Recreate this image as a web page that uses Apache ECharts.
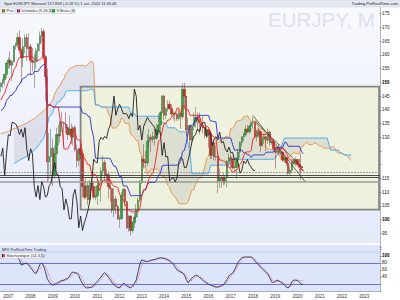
<!DOCTYPE html>
<html><head><meta charset="utf-8">
<script src="https://cdn.jsdelivr.net/npm/echarts/dist/echarts.min.js"></script>
<style>html,body{margin:0;padding:0;background:#fff}#c{width:400px;height:300px}</style>
</head><body><div id="c"></div><script>
const months = [
'2006-09','2006-10','2006-11','2006-12',
'2007-01','2007-02','2007-03','2007-04','2007-05','2007-06','2007-07','2007-08','2007-09','2007-10','2007-11','2007-12',
'2008-01','2008-02','2008-03','2008-04','2008-05','2008-06','2008-07','2008-08','2008-09','2008-10','2008-11','2008-12',
'2009-01','2009-02','2009-03','2009-04','2009-05','2009-06','2009-07','2009-08','2009-09','2009-10','2009-11','2009-12',
'2010-01','2010-02','2010-03','2010-04','2010-05','2010-06','2010-07','2010-08','2010-09','2010-10','2010-11','2010-12',
'2011-01','2011-02','2011-03','2011-04','2011-05','2011-06','2011-07','2011-08','2011-09','2011-10','2011-11','2011-12',
'2012-01','2012-02','2012-03','2012-04','2012-05','2012-06','2012-07','2012-08','2012-09','2012-10','2012-11','2012-12',
'2013-01','2013-02','2013-03','2013-04','2013-05','2013-06','2013-07','2013-08','2013-09','2013-10','2013-11','2013-12',
'2014-01','2014-02','2014-03','2014-04','2014-05','2014-06','2014-07','2014-08','2014-09','2014-10','2014-11','2014-12',
'2015-01','2015-02','2015-03','2015-04','2015-05','2015-06','2015-07','2015-08','2015-09','2015-10','2015-11','2015-12',
'2016-01','2016-02','2016-03','2016-04','2016-05','2016-06','2016-07','2016-08','2016-09','2016-10','2016-11','2016-12',
'2017-01','2017-02','2017-03','2017-04','2017-05','2017-06','2017-07','2017-08','2017-09','2017-10','2017-11','2017-12',
'2018-01','2018-02','2018-03','2018-04','2018-05','2018-06','2018-07','2018-08','2018-09','2018-10','2018-11','2018-12',
'2019-01','2019-02','2019-03','2019-04','2019-05','2019-06','2019-07','2019-08','2019-09','2019-10','2019-11','2019-12',
'2020-01','2020-02','2020-03','2020-04','2020-05','2020-06','2020-07','2020-08','2020-09','2020-10','2020-11','2020-12',
'2021-01','2021-02','2021-03','2021-04','2021-05','2021-06','2021-07','2021-08','2021-09','2021-10','2021-11','2021-12',
'2022-01','2022-02','2022-03','2022-04','2022-05','2022-06','2022-07','2022-08','2022-09','2022-10','2022-11','2022-12',
'2023-01','2023-02','2023-03','2023-04','2023-05','2023-06','2023-07','2023-08','2023-09'];

const openV = [148.5,149.7,151.0,152.9,157.0,158.1,156.2,157.6,163.2,164.0,166.3,161.7,158.9,163.0,166.3,162.3,
163.0,158.0,157.3,157.5,161.5,164.0,167.0,168.5,159.3,152.0,121.0,123.0,
126.0,116.0,124.0,131.0,130.5,135.4,135.2,134.8,133.5,131.0,133.0,130.0,
133.5,125.5,121.5,125.8,124.0,112.0,108.2,112.4,107.3,113.8,112.0,108.2,
108.7,112.3,113.2,117.7,120.8,116.5,116.3,112.0,111.2,103.5,107.5,104.7,
100.2,100.3,108.9,111.0,106.5,97.0,101.3,96.0,98.8,100.9,103.5,107.0,
113.5,122.0,121.0,120.7,128.5,130.0,129.2,130.3,129.6,132.8,134.5,139.0,
145.0,138.0,140.4,142.0,140.5,138.5,138.7,138.4,136.8,138.7,137.5,147.5,
144.9,132.6,134.3,129.0,134.0,135.5,137.2,136.2,135.2,134.4,133.4,130.7,
132.7,131.5,123.4,128.0,122.8,123.0,114.1,114.9,115.3,113.7,115.3,121.2,
122.6,122.1,118.9,119.0,121.6,124.6,128.1,130.2,131.0,133.0,132.0,134.1,
135.3,135.4,130.2,130.8,132.0,127.0,129.3,130.2,128.9,131.9,128.0,128.4,
125.8,124.6,126.4,124.3,124.5,121.7,122.5,120.6,116.9,118.0,121.3,120.4,
121.9,120.0,119.1,118.0];
const highV = [150.0,151.3,153.0,157.5,159.1,161.2,158.0,163.5,164.5,168.0,168.9,162.5,166.0,167.5,167.7,168.0,
164.0,162.5,160.5,162.5,164.3,168.5,169.9,169.5,160.0,155.0,131.5,133.0,
129.5,127.0,133.5,134.5,136.0,139.3,135.8,139.0,134.5,138.0,135.0,134.0,
134.4,127.3,126.0,127.5,125.5,114.0,115.5,113.5,114.5,115.5,114.0,112.2,
114.8,114.3,119.0,123.3,121.8,118.5,117.0,114.2,111.5,111.5,108.5,105.5,
101.5,110.0,111.5,111.4,106.8,101.5,101.5,99.5,102.5,105.5,108.0,114.5,
123.0,127.5,125.0,131.0,133.0,131.0,132.0,133.0,134.8,138.5,139.5,145.3,
145.5,141.0,143.5,143.5,142.0,139.5,139.0,139.0,140.0,139.0,149.7,149.8,
145.0,137.0,134.5,134.3,139.0,141.0,139.0,139.0,137.0,137.5,133.7,133.7,
133.0,132.5,128.3,128.8,127.0,124.4,118.5,116.0,116.8,116.0,121.7,124.1,
123.8,122.6,122.0,121.7,125.8,128.6,130.4,131.7,134.3,134.5,134.5,135.6,
137.5,135.6,132.5,133.5,132.5,130.4,131.0,130.4,133.1,132.5,129.3,129.5,
126.0,126.5,127.5,126.0,125.0,123.2,122.7,121.0,119.5,121.5,122.0,122.6,
122.0,122.0,124.0,118.5];
const lowV = [146.5,147.8,149.0,151.5,154.9,155.0,150.5,157.1,162.0,162.5,160.5,149.8,155.6,160.5,158.0,159.5,
152.5,154.0,148.0,155.0,157.5,161.3,164.5,159.0,143.3,113.6,114.5,116.0,
112.1,114.8,118.5,127.0,128.0,132.0,127.0,131.5,129.0,130.5,127.5,127.0,
124.7,119.0,119.5,122.0,108.0,107.3,107.5,105.4,106.0,110.5,107.5,107.0,
105.4,111.0,106.5,116.0,113.8,113.0,107.7,106.4,102.3,100.8,102.0,100.0,
97.0,100.0,107.0,104.8,96.5,95.6,94.1,95.0,97.0,100.0,100.6,106.5,
113.0,118.6,119.0,119.5,126.5,124.5,128.0,127.0,129.0,131.0,131.5,138.5,
136.2,136.5,139.3,140.0,137.5,136.5,135.7,136.0,136.0,133.1,136.5,140.2,
130.2,130.8,126.1,127.0,132.5,133.5,132.5,131.0,132.2,131.5,129.5,129.8,
126.2,122.1,122.0,121.5,121.5,109.6,111.5,111.6,112.6,112.8,111.6,120.0,
118.7,118.2,117.0,114.8,121.5,122.4,126.7,128.6,130.3,131.5,131.2,132.0,
133.1,129.5,128.5,130.0,124.6,126.6,127.5,124.9,127.5,126.6,127.2,125.4,
118.6,124.3,123.6,123.5,121.0,120.8,119.5,115.9,115.9,117.0,120.0,119.5,
119.3,117.1,114.4,117.5];
const closeV = [149.7,151.0,152.9,157.0,158.1,156.2,157.6,163.2,164.0,166.3,161.7,158.9,163.0,166.3,162.3,163.0,
158.0,157.3,157.5,161.5,164.0,167.0,168.5,159.3,152.0,121.0,123.0,126.0,
116.0,124.0,131.0,130.5,135.4,135.2,134.8,133.5,131.0,133.0,130.0,133.5,
125.5,121.5,125.8,124.0,112.0,108.2,112.4,107.3,113.8,112.0,108.2,108.7,
112.3,113.2,117.7,120.8,116.5,116.3,112.0,111.2,103.5,107.5,104.7,100.2,
100.3,108.9,111.0,106.5,97.0,101.3,96.0,98.8,100.9,103.5,107.0,113.5,
122.0,121.0,120.7,128.5,130.0,129.2,130.3,129.6,132.8,134.5,139.0,145.0,
138.0,140.4,142.0,140.5,138.5,138.7,138.4,136.8,138.7,137.5,147.5,144.9,
132.6,134.3,129.0,134.0,135.5,137.2,136.2,135.2,134.4,133.4,130.7,132.7,
131.5,123.4,128.0,122.8,123.0,114.1,114.9,115.3,113.7,115.3,121.2,122.6,
122.1,118.9,119.0,121.6,124.6,128.1,130.2,131.0,133.0,132.0,134.1,135.3,
135.4,130.2,130.8,132.0,127.0,129.3,130.2,128.9,131.9,128.0,128.4,125.8,
124.6,126.4,124.3,124.5,121.7,122.5,120.6,116.9,118.0,121.3,120.4,121.9,
120.0,119.1,118.0,117.86];

const tenkan = [143.5,145.0,146.0,148.25,150.05,151.6,152.1,154.75,155.5,157.9,
158.95,159.35,159.35,159.35,159.35,159.35,159.35,159.35,158.45,158.0,
158.0,158.25,158.95,158.95,156.6,141.75,141.75,141.75,141.0,141.0,
141.0,140.8,136.05,133.55,125.7,125.7,125.7,127.05,128.9,133.15,
132.0,129.15,129.0,129.0,123.0,122.65,121.15,119.9,119.9,116.45,
116.45,116.45,115.45,110.45,112.2,114.35,114.35,114.35,114.35,114.35,
112.8,112.05,112.05,111.65,109.4,107.75,107.0,105.6,104.2,103.55,
102.8,102.8,102.8,102.8,102.8,104.3,108.55,110.8,110.8,113.0,
115.0,116.5,116.8,119.75,123.9,128.55,129.25,132.25,135.0,135.0,
136.25,136.25,137.25,138.25,138.5,140.6,140.6,138.3,141.4,141.45,
140.0,140.0,137.95,137.95,137.95,137.95,137.95,137.95,135.55,133.55,
133.55,134.0,133.6,131.55,130.5,130.25,129.5,123.55,121.65,121.65,
121.3,121.05,119.2,119.2,118.3,117.0,117.8,117.85,118.7,120.1,
121.0,123.25,124.55,124.65,124.65,125.2,129.5,129.95,132.1,133.0,
131.05,131.05,131.05,131.05,131.05,130.1,129.05,129.05,125.85,125.85,
125.85,125.85,125.85,125.55,124.05,122.7,121.7,121.7,121.7,120.95,
120.45,119.55,119.2,119.2];
const kijun = [139.65,140.15,141.15,143.4,144.2,145.25,145.25,146.4,146.9,148.65,
149.1,150.45,151.45,151.7,152.45,152.95,152.95,152.95,153.95,153.95,
153.95,154.95,155.95,156.45,156.6,141.75,141.75,141.75,141.0,141.0,
141.0,141.0,141.0,141.0,141.0,141.0,141.0,141.0,141.0,141.0,
141.0,141.0,141.0,141.0,138.95,138.6,138.6,137.65,137.45,132.7,
130.2,122.35,122.35,122.35,122.35,122.35,122.35,122.35,122.35,122.2,
120.65,119.4,119.4,117.5,115.7,115.7,112.25,112.25,112.2,110.55,
108.7,108.7,108.7,108.7,108.7,108.7,108.7,110.8,110.8,112.55,
113.55,113.55,113.55,113.55,114.45,116.3,116.8,119.55,119.8,119.8,
119.8,119.8,119.8,119.8,119.8,119.8,120.25,121.25,124.85,125.2,
128.15,131.4,134.2,134.4,134.65,137.15,137.15,137.95,137.95,137.95,
137.95,137.95,137.95,135.95,135.9,135.65,135.65,129.7,129.7,129.7,
129.7,129.7,129.7,129.7,129.7,127.3,125.3,125.3,125.3,125.3,
125.3,124.3,124.3,123.55,123.55,122.6,123.55,123.55,123.55,123.55,
123.55,123.55,123.55,124.5,124.55,124.55,124.55,124.55,126.15,126.15,
126.15,126.15,126.15,128.05,128.05,126.7,126.7,126.7,126.7,126.7,
126.7,126.7,125.0,123.95];
const senkouA = [131.3,131.6,131.5,131.9,132.0,132.5,132.7,133.2,133.3,133.8,
134.0,134.4,134.5,134.9,135.3,135.6,136.0,136.5,136.7,137.3,
137.9,138.4,139.0,139.6,140.2,140.9,
141.6,142.6,143.6,145.8,147.1,148.4,148.7,150.6,151.2,153.3,
154.0,154.9,155.4,155.5,155.9,156.15,156.15,156.15,156.2,156.0,
156.0,156.6,157.45,157.7,156.6,141.75,141.75,141.75,141.0,141.0,
141.0,140.9,138.5,137.3,133.35,133.35,133.35,134.0,134.95,137.1,
136.5,135.1,135.0,135.0,131.0,130.6,129.9,128.8,128.7,124.6,
123.3,119.4,118.9,116.4,117.3,118.35,118.35,118.35,118.35,118.3,
116.7,115.7,115.7,114.6,112.55,111.7,109.6,108.9,108.2,107.05,
105.75,105.75,105.75,105.75,105.75,106.5,108.6,110.8,110.8,112.8,
114.3,115.0,115.2,116.65,119.2,122.4,123.0,125.9,127.4,127.4,
128.0,128.0,128.5,129.0,129.15,130.2,130.4,129.8,133.1,133.3,
134.1,135.7,136.1,136.2,136.3,137.55,137.55,137.95,136.75,135.75,
135.75,136.0,135.8,133.75,133.2,132.95,132.6,126.6,125.7,125.7,
125.5,125.4,124.45,124.45,124.0,122.15,121.55,121.6,122.0,122.7,
123.15,123.8,124.4,124.1,124.1,123.9,126.5,126.75,127.8,128.3,
127.3,127.3,127.3,127.8,127.8,127.3,126.8,126.8,126.0,126.0,
126.0,126.0,126.0,126.8,126.05,124.7,124.2,124.2,124.2,123.8,
123.6,123.1,122.1,121.6];
const senkouB = [null,null,null,null,null,null,null,
120.4,120.8,121.2,121.6,122.0,122.3,122.7,123.1,123.6,124.1,124.6,125.3,126.0,126.8,127.7,128.6,129.6,131.5,134.0,
137.5,138.0,139.0,141.25,142.05,143.1,143.1,144.25,144.75,146.5,
146.95,146.95,146.95,146.95,146.95,146.95,146.95,146.95,146.95,146.95,
146.95,146.95,147.45,147.45,147.45,141.75,141.75,141.75,141.0,141.0,
141.0,141.0,141.0,141.0,141.0,141.0,141.0,141.0,141.0,141.0,
141.0,141.0,141.0,141.0,138.95,138.6,138.6,137.65,137.65,137.65,
137.65,137.65,137.65,137.65,137.65,137.65,137.65,137.65,137.65,137.65,
136.1,135.35,135.35,134.95,133.45,133.45,133.45,133.45,133.4,132.75,
132.0,132.0,132.0,132.0,131.8,127.05,124.55,116.7,116.7,116.7,
116.7,116.7,116.7,116.7,116.7,116.55,116.8,119.55,119.8,119.8,
119.8,119.8,119.8,119.8,119.8,119.8,119.8,119.8,121.9,121.95,
121.95,121.95,121.95,121.95,121.95,121.95,121.95,121.95,121.95,121.95,
121.95,121.95,121.95,121.95,121.95,121.95,121.95,121.95,121.95,121.95,
121.95,121.95,122.4,123.4,124.9,125.2,128.15,129.7,129.7,129.7,
129.7,129.7,129.7,129.7,129.7,129.7,129.7,129.7,129.7,129.7,
129.7,129.7,129.7,129.7,129.7,129.7,129.7,129.7,129.7,129.7,
129.7,127.3,125.3,125.3,125.3,125.3,125.3,124.3,124.3,123.55,
123.55,123.55,123.55,123.55];
const stochK = [96,97,98,99,98,97,96,98,99,97,
88,74,76,79,80,74,67,60,52,50,
62,76,80,72,55,35,26,20,17,19,
22,25,28,30,31,34,36,42,52,54,
52,51,44,31,21,13,9,9,10,11,
16,22,28,34,40,48,53,47,39,32,
24,18,13,10,9,16,22,19,14,11,
9,14,22,31,55,78,89,87,84,84,
86,88,89,90,92,94,95,94,93,91,
89,86,81,76,68,60,57,54,52,45,
33,23,30,37,41,45,44,39,35,30,
26,22,19,17,15,13,11,11,13,16,
18,25,33,43,48,51,60,72,83,90,
95,97,97,97,97,97,93,86,80,75,
68,64,58,53,48,38,26,24,28,31,
28,25,22,16,11,9,15,27,31,31,
30,25,20,18.676];
const stochD = [93,95,96,97,98,98,97,97,97,98,
95,88,81,78,78,77,73,67,61,56,
57,63,70,74,70,58,45,33,24,20,
19,21,24,27,29,31,33,37,43,48,
51,52,50,44,35,25,17,12,10,10,
12,16,21,27,33,40,46,48,46,40,
32,25,19,14,11,12,16,19,18,15,
11,11,15,22,36,55,74,85,87,85,
85,86,88,89,90,92,94,94,94,93,
91,89,85,81,75,68,62,57,54,50,
43,33,29,30,36,41,43,42,39,35,
30,26,22,19,17,15,13,12,12,13,
16,20,26,34,42,48,54,63,73,83,
90,94,96,97,97,97,96,91,85,79,
73,68,63,58,53,45,35,28,26,28,
29,28,25,21,16,12,12,18,25,30,
31,30,29,28.434];
const chikouShift = 26;
const boxMonths = ['2010-04','2023-09'];
const boxPrices = [148.4,103.6];
const hLevels = [117.3,116.3,115.35,113.8];
const trendA = [['2018-01',137.9],['2020-05',113.9]];
const trendB = [['2018-02',135.8],['2020-04',118.8]];
const priceTags = [124.676,123.550,122.100,119.200,117.858,116.480];
const stochTags = [28.434,18.676];
const stochLevels = [80,20];
const priceLabelsShown = [95,100,105,110,115,130,135,140,145,150,155,160,165,170,175];
const stochLabelsShown = [40,60,80,100];

const candleData = openV.map((o,i)=>[o, closeV[i], lowV[i], highV[i]]);
const chikouData = closeV.slice(chikouShift).map((v,k)=>[k,v]);
const FF = 'Liberation Sans, Arial, sans-serif';

const tagStyles = [
 {c:'#2233bb',bg:'#e4e9ff',dy:-0.8},{c:'#2a9ad8',bg:'#e6f2fc',dy:0.6},{c:'#c07a30',bg:'#f8ecdc',dy:0.9},
 {c:'#d02040',bg:'#fbd9de',dy:-0.6},{c:'#000000',bg:'#ffd400',dy:0},{c:'#3a9a3a',bg:'#e6f3e6',dy:0.6}];
function tagLabel(v, st){
  return {show:true, position:'end', distance:2, offset:[0, st.dy||0], formatter: v.toFixed(3), color: st.c,
    backgroundColor: st.bg, borderColor:'#a8acb8', borderWidth:0.4, padding:[0.3,1,0,1],
    fontSize:3.9, lineHeight:3.8, fontFamily:FF};
}
const hStyles = [
 {color:'#8a8a8a', width:0.8, type:[2,1]},
 {color:'#3c3c3c', width:0.9, type:'solid'},
 {color:'#4a4a4a', width:1, type:'solid'},
 {color:'#9a9a9a', width:1.6, type:'solid'}];
const mainMarkLines = [];
hLevels.forEach((v,i)=>mainMarkLines.push({yAxis:v, lineStyle:hStyles[i], label:{show:false}}));
priceTags.forEach((v,i)=>mainMarkLines.push({yAxis:v, lineStyle:{opacity:0}, label:tagLabel(v,tagStyles[i])}));
[trendA,trendB].forEach(t=>mainMarkLines.push([{coord:t[0]},{coord:t[1], lineStyle:{color:'#303030',width:0.7,type:'solid'}, label:{show:false}}]));

const stochMarks = [];
stochLevels.forEach(v=>stochMarks.push({yAxis:v, lineStyle:{color:'#6d6de6', width:1, type:'solid'}, label:{show:false}}));
stochMarks.push({yAxis:stochTags[0], lineStyle:{opacity:0}, label:tagLabel(stochTags[0],{c:'#d02040',bg:'#fbd9de',dy:0.4})});
stochMarks.push({yAxis:stochTags[1], lineStyle:{opacity:0}, label:tagLabel(stochTags[1],{c:'#1d1d3a',bg:'#d4d8e6',dy:1.6})});

const chart = echarts.init(document.getElementById('c'), null, {renderer:'svg', width:400, height:300});
const option = {
 animation:false,
 textStyle:{fontFamily:FF},
 grid:[{left:0,right:20,top:-5,height:252},{left:0,right:20,top:246,height:45}],
 xAxis:[
  {type:'category', gridIndex:0, data:months, boundaryGap:true, show:false},
  {type:'category', gridIndex:1, data:months, boundaryGap:true,
   axisLine:{show:true,lineStyle:{color:'#9a9a9a',width:0.8}}, axisTick:{show:false}, splitLine:{show:false},
   axisLabel:{interval:(i,v)=>v.endsWith('-01'), formatter:v=>v.slice(0,4), fontSize:4.5, color:'#333', margin:2.5, fontFamily:FF}}
 ],
 yAxis:[
  {type:'value', gridIndex:0, position:'right', min:90, max:180, interval:5, splitLine:{show:false},
   axisLine:{show:true,lineStyle:{color:'#a0a4b0',width:0.8}}, axisTick:{show:true,length:1.5,lineStyle:{color:'#555',width:0.6}},
   axisLabel:{fontSize:4.5, color:'#222', margin:2, fontFamily:FF,
     formatter:v=> priceLabelsShown.indexOf(v)<0?'':((v===100||v===150)?'{b|'+v+'}':String(v)),
     rich:{b:{fontWeight:'bold',fontSize:4.5,color:'#000',fontFamily:FF}}}},
  {type:'value', gridIndex:1, position:'right', min:0, max:128.57, interval:20, splitLine:{show:false},
   axisLine:{show:true,lineStyle:{color:'#a0a4b0',width:0.8}}, axisTick:{show:true,length:1.5,lineStyle:{color:'#555',width:0.6}},
   axisLabel:{fontSize:4.5, color:'#222', margin:2, fontFamily:FF, showMaxLabel:false,
     formatter:v=> stochLabelsShown.indexOf(v)<0?'':(v===100?'{b|100}':String(v)),
     rich:{b:{fontWeight:'bold',fontSize:4.5,color:'#000',fontFamily:FF}}}}
 ],
 graphic:[
  {type:'rect', z:0, silent:true, shape:{x:0,y:7,width:380,height:236},
   style:{fill:{type:'linear',x:0,y:0,x2:0,y2:1,colorStops:[{offset:0,color:'#f8f9fe'},{offset:1,color:'#e5eaf9'}]}}},
  {type:'rect', z:0, silent:true, shape:{x:0,y:245,width:380,height:46}, style:{fill:'#dde5fb'}},
  {type:'line', z:0, silent:true, shape:{x1:0,y1:252,x2:380,y2:252}, style:{stroke:'#b9bfd0',lineWidth:0.6}},
  {type:'rect', z:100, silent:true, shape:{x:0,y:0,width:400,height:7}, style:{fill:'#e4eaf3',stroke:'#c5cdd9',lineWidth:0.5}},
  {type:'text', z:101, silent:true, style:{x:4,y:3.6,text:'Spot EUR/JPY Mensuel 117.858 (-0.18 %) 1 avr. 2020 11:30:46',fontSize:4,fill:'#222',verticalAlign:'middle',fontFamily:FF}},
  {type:'text', z:101, silent:true, style:{x:398,y:3.6,text:'Trading.ProRealTime.com',fontSize:4,fill:'#222',align:'right',verticalAlign:'middle',fontFamily:FF}},
  {type:'text', z:0.5, silent:true, style:{x:268,y:19.5,text:'EURJPY, M',fontSize:20.5,fill:'#dde1ec',verticalAlign:'middle',fontFamily:FF}},
  {type:'rect', z:100, silent:true, shape:{x:1,y:8,width:14,height:5.5}, style:{fill:'#ffffff',stroke:'#b8bcc8',lineWidth:0.5}},
  {type:'rect', z:101, silent:true, shape:{x:2,y:9.2,width:1.6,height:3.2}, style:{fill:'#d42a2a'}},
  {type:'rect', z:101, silent:true, shape:{x:3.6,y:9.2,width:1.6,height:3.2}, style:{fill:'#2e9a2e'}},
  {type:'text', z:101, silent:true, style:{x:6.5,y:10.9,text:'Prix',fontSize:4,fill:'#222',verticalAlign:'middle',fontFamily:FF}},
  {type:'rect', z:100, silent:true, shape:{x:16,y:8,width:34,height:5.5}, style:{fill:'#ffffff',stroke:'#b8bcc8',lineWidth:0.5}},
  {type:'rect', z:101, silent:true, shape:{x:17,y:9.2,width:1.6,height:3.2}, style:{fill:'#2b2bd0'}},
  {type:'rect', z:101, silent:true, shape:{x:18.6,y:9.2,width:1.6,height:3.2}, style:{fill:'#e82020'}},
  {type:'text', z:101, silent:true, style:{x:21.5,y:10.9,text:'Ichimoku (9,26,52)',fontSize:4,fill:'#222',verticalAlign:'middle',fontFamily:FF}},
  {type:'rect', z:100, silent:true, shape:{x:51,y:8,width:22,height:5.5}, style:{fill:'#ffffff',stroke:'#b8bcc8',lineWidth:0.5}},
  {type:'rect', z:101, silent:true, shape:{x:52,y:9.2,width:3.2,height:3.2}, style:{fill:'#2e9a2e'}},
  {type:'text', z:101, silent:true, style:{x:56.5,y:10.9,text:'V.Bruts (4)',fontSize:4,fill:'#222',verticalAlign:'middle',fontFamily:FF}},
  {type:'text', z:101, silent:true, style:{x:2,y:249.8,text:'BFX ProRealTime Trading',fontSize:3.8,fill:'#333',verticalAlign:'middle',fontFamily:FF}},
  {type:'rect', z:100, silent:true, shape:{x:1,y:253,width:40,height:5.2}, style:{fill:'#ffffff',stroke:'#b8bcc8',lineWidth:0.5}},
  {type:'rect', z:101, silent:true, shape:{x:2,y:254.1,width:1.6,height:3.1}, style:{fill:'#1d1d3a'}},
  {type:'rect', z:101, silent:true, shape:{x:3.6,y:254.1,width:1.6,height:3.1}, style:{fill:'#e05060'}},
  {type:'text', z:101, silent:true, style:{x:6.5,y:255.7,text:'Stochastique (14,3,5)',fontSize:4,fill:'#222',verticalAlign:'middle',fontFamily:FF}}
 ],
 series:[
  {name:'box', type:'custom', xAxisIndex:0, yAxisIndex:0, z:1, silent:true, data:[[0,0]],
   renderItem:(p,api)=>{
     const a = api.coord([months.indexOf(boxMonths[0]), boxPrices[0]]);
     const b = api.coord([months.indexOf(boxMonths[1]), boxPrices[1]]);
     return {type:'rect', shape:{x:a[0],y:a[1],width:b[0]-a[0],height:b[1]-a[1]},
       style:{fill:'rgba(239,242,212,0.75)',stroke:'#858585',lineWidth:1.8}};
   }},
  {name:'cloud', type:'custom', xAxisIndex:0, yAxisIndex:0, z:1.2, silent:true, data:[[0,0]],
   renderItem:(p,api)=>{
     const top=[], bot=[];
     for(let j=0;j<senkouA.length;j++){
       if(senkouA[j]!=null && senkouB[j]!=null){ top.push(api.coord([j,senkouA[j]])); bot.push(api.coord([j,senkouB[j]])); }
     }
     return {type:'polygon', shape:{points:top.concat(bot.reverse())}, style:{fill:'rgba(110,110,125,0.14)'}};
   }},
  {name:'Senkou A', type:'line', xAxisIndex:0, yAxisIndex:0, data:senkouA, symbol:'none', z:3,
   lineStyle:{color:'#e8914a',width:0.9}},
  {name:'Senkou B', type:'line', xAxisIndex:0, yAxisIndex:0, data:senkouB, symbol:'none', z:3,
   lineStyle:{color:'#3fa6ee',width:0.9}},
  {name:'Prix', type:'candlestick', xAxisIndex:0, yAxisIndex:0, data:candleData, z:4, barWidth:1.9,
   itemStyle:{color:'#2fa52f', color0:'#e02626', borderColor:'#2c5a2c', borderColor0:'#7c2020', borderWidth:0.45}},
  {name:'Chikou', type:'line', xAxisIndex:0, yAxisIndex:0, data:chikouData, symbol:'none', z:5,
   lineStyle:{color:'#1e1e1e',width:0.9}},
  {name:'Kijun', type:'line', xAxisIndex:0, yAxisIndex:0, data:kijun, symbol:'none', z:5,
   lineStyle:{color:'#2b2bd0',width:0.9}},
  {name:'Tenkan', type:'line', xAxisIndex:0, yAxisIndex:0, data:tenkan, symbol:'none', z:6,
   lineStyle:{color:'#f02020',width:0.9},
   markLine:{silent:true, symbol:['none','none'], animation:false, data:mainMarkLines}},
  {name:'%D', type:'line', xAxisIndex:1, yAxisIndex:1, data:stochD, symbol:'none', z:4,
   lineStyle:{color:'#e06a7a',width:0.9,type:[1.2,1]}},
  {name:'%K', type:'line', xAxisIndex:1, yAxisIndex:1, data:stochK, symbol:'none', z:5,
   lineStyle:{color:'#34344f',width:0.9},
   markLine:{silent:true, symbol:['none','none'], animation:false, data:stochMarks}}
 ]
};
chart.setOption(option);
</script></body></html>
